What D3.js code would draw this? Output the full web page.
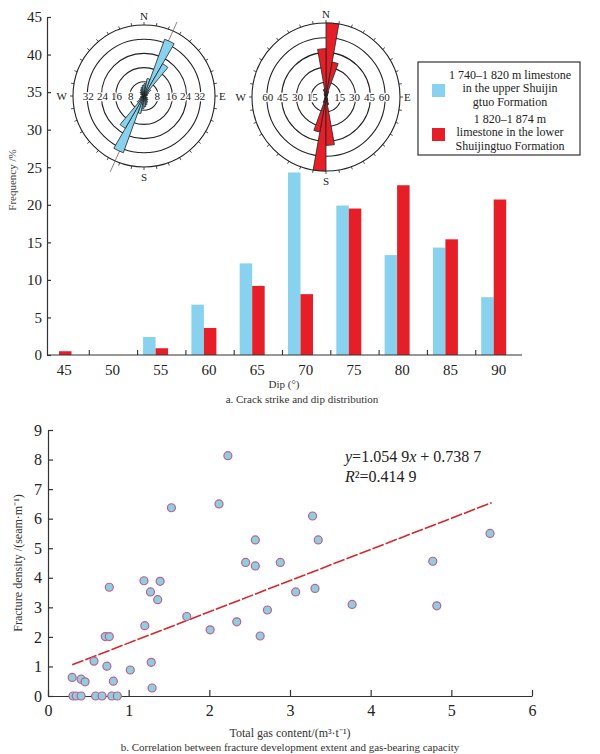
<!DOCTYPE html>
<html>
<head>
<meta charset="utf-8">
<script src="https://cdn.jsdelivr.net/npm/d3@7"></script>
<style>
  body { margin: 0; background: #fff; }
  svg { display: block; }
  text { font-family: "Liberation Serif", "Times New Roman", serif; }
  .axis path, .axis line { stroke: #333; stroke-width: 1.2; }
  .axis text { fill: #222; }
</style>
</head>
<body>
<svg width="600" height="754"></svg>
<script>
'use strict';
// ---- data ----
var dips = ['45', '50', '55', '60', '65', '70', '75', '80', '85', '90'];
var seriesNames = ['upper', 'lower'];
var upperFreq = [0, 0, 2.4, 6.7, 12.2, 24.3, 19.9, 13.3, 14.3, 7.7];
var lowerFreq = [0.5, 0, 0.9, 3.6, 9.2, 8.1, 19.5, 22.6, 15.4, 20.7];
var freqTicks = [0, 5, 10, 15, 20, 25, 30, 35, 40, 45];

// rose bins: 10 degree bins over 0-180, mirrored to 180-360
var roseBins = [0, 10, 20, 30, 40, 50, 60, 70, 80, 90, 100, 110, 120, 130, 140, 150, 160, 170];
var upperRose = [7, 10, 34, 21, 5, 3, 2, 2, 1, 1, 1, 2, 2, 3, 3, 4, 5, 6];
var lowerRose = [75, 36, 6, 3, 2, 2, 1, 1, 1, 1, 1, 1, 2, 2, 3, 4, 8, 49];
var upperRings = [8, 16, 24, 32];
var lowerRings = [15, 30, 45, 60];
var upperMeanStrike = 24;

var gasContent = [0.30, 0.31, 0.35, 0.41, 0.41, 0.46, 0.57, 0.59, 0.67, 0.71, 0.76, 0.73, 0.76, 0.81, 0.79, 0.86,
  1.02, 1.19, 1.20, 1.27, 1.28, 1.29, 1.36, 1.39, 1.53, 1.72, 2.01, 2.12, 2.23, 2.34, 2.45, 2.57, 2.57, 2.63,
  2.72, 2.88, 3.07, 3.28, 3.31, 3.35, 3.77, 4.77, 4.82, 5.48];
var fractureDensity = [0.63, 0, 0, 0, 0.57, 0.48, 1.18, 0, 0, 2.01, 2.01, 1.01, 3.68, 0.50, 0, 0,
  0.88, 3.90, 2.38, 3.52, 1.14, 0.27, 3.26, 3.88, 6.37, 2.69, 2.24, 6.50, 8.13, 2.51, 4.52, 4.40, 5.28, 2.03,
  2.91, 4.52, 3.52, 6.09, 3.64, 5.28, 3.10, 4.56, 3.05, 5.50];
var fitSlope = 1.0549;
var fitIntercept = 0.7387;
var fitRange = [0.3, 5.5];
var gasTicks = [0, 1, 2, 3, 4, 5, 6];
var densityTicks = [0, 1, 2, 3, 4, 5, 6, 7, 8, 9];

var colors = { upper: '#88d2f0', lower: '#e61e28' };
var FONT = '"Liberation Serif", "Times New Roman", serif';

var svg = d3.select('svg');

// ================= chart a: dip histogram =================
var areaA = { left: 47, right: 522, top: 17, bottom: 355 };
var xBand = d3.scaleBand().domain(dips).range([areaA.left - 6, areaA.right + 2]);
var xSub = d3.scaleBand().domain(seriesNames).range([5.5, 30.5]);
var yFreq = d3.scaleLinear().domain([0, 45]).range([areaA.bottom, areaA.top]);

var barRows = [];
dips.forEach(function(d, i) {
  barRows.push({ dip: d, key: 'upper', v: upperFreq[i] });
  barRows.push({ dip: d, key: 'lower', v: lowerFreq[i] });
});

// ---- rose diagrams ----
function drawRose(cx, cy, outerR, ringVals, values, color, meanStrike) {
  var g = svg.append('g').attr('transform', 'translate(' + cx + ',' + cy + ')');
  var maxRing = ringVals[ringVals.length - 1];
  var r = d3.scaleLinear().domain([0, maxRing]).range([0, outerR * 0.8]);

  g.append('circle').attr('r', outerR).attr('fill', 'none').attr('stroke', '#222').attr('stroke-width', 1.1);
  g.selectAll('.ring').data(ringVals).enter().append('circle')
    .attr('r', function(d) { return r(d); })
    .attr('fill', 'none').attr('stroke', '#222').attr('stroke-width', 1.1);

  // outer ticks every 10 degrees
  g.selectAll('.tk').data(d3.range(0, 360, 10)).enter().append('line')
    .attr('x1', function(d) { return outerR * Math.sin(d * Math.PI / 180); })
    .attr('y1', function(d) { return -outerR * Math.cos(d * Math.PI / 180); })
    .attr('x2', function(d) { return (outerR + 3) * Math.sin(d * Math.PI / 180); })
    .attr('y2', function(d) { return -(outerR + 3) * Math.cos(d * Math.PI / 180); })
    .attr('stroke', '#222').attr('stroke-width', 0.8);

  // labels on the E-W line
  var labs = [];
  ringVals.forEach(function(v) { labs.push({ v: v, s: -1 }); labs.push({ v: v, s: 1 }); });
  g.selectAll('.lb').data(labs).enter().append('text')
    .attr('x', function(d) { return d.s * (r(d.v) - 1); })
    .attr('y', 4)
    .attr('text-anchor', 'middle')
    .style('font-size', '11px').attr('fill', '#222')
    .attr('stroke', '#fff').attr('stroke-width', 2.5).attr('paint-order', 'stroke')
    .text(function(d) { return d.v; });

  if (meanStrike != null) {
    var a = meanStrike * Math.PI / 180;
    g.append('line')
      .attr('x1', (outerR + 10) * Math.sin(a)).attr('y1', -(outerR + 10) * Math.cos(a))
      .attr('x2', -(outerR + 12) * Math.sin(a)).attr('y2', (outerR + 12) * Math.cos(a))
      .attr('stroke', '#666').attr('stroke-width', 0.8);
  }

  var petals = [];
  roseBins.forEach(function(b, i) {
    petals.push({ a: b, v: values[i] });
    petals.push({ a: b + 180, v: values[i] });
  });
  var arc = d3.arc().innerRadius(0)
    .outerRadius(function(d) { return r(d.v); })
    .startAngle(function(d) { return d.a * Math.PI / 180; })
    .endAngle(function(d) { return (d.a + 10) * Math.PI / 180; });
  g.selectAll('.petal').data(petals).enter().append('path')
    .attr('d', arc)
    .attr('fill', color).attr('stroke', '#222').attr('stroke-width', 0.8);

  var dirs = [
    { t: 'N', x: 0, y: -outerR - 5, anchor: 'middle' },
    { t: 'S', x: 0, y: outerR + 14, anchor: 'middle' },
    { t: 'W', x: -outerR - 6, y: 4, anchor: 'end' },
    { t: 'E', x: outerR + 4, y: 4, anchor: 'start' }
  ];
  g.selectAll('.dir').data(dirs).enter().append('text')
    .attr('x', function(d) { return d.x; }).attr('y', function(d) { return d.y; })
    .attr('text-anchor', function(d) { return d.anchor; })
    .style('font-size', '11px').attr('fill', '#222')
    .text(function(d) { return d.t; });
}

drawRose(144, 96, 71, upperRings, upperRose, colors.upper, upperMeanStrike);
drawRose(326, 97, 74, lowerRings, lowerRose, colors.lower, null);

// bars drawn after the roses (the 70 bar overlaps the rose bottom)
svg.append('g').selectAll('rect').data(barRows.filter(function(d) { return d.v > 0; }))
  .enter().append('rect')
  .attr('x', function(d) { return xBand(d.dip) + xSub(d.key); })
  .attr('width', xSub.bandwidth())
  .attr('y', function(d) { return yFreq(d.v); })
  .attr('height', function(d) { return yFreq(0) - yFreq(d.v); })
  .attr('fill', function(d) { return colors[d.key]; });

// y axis
var yAxisA = svg.append('g').attr('class', 'axis')
  .attr('transform', 'translate(' + areaA.left + ',0)')
  .call(d3.axisRight(yFreq).tickValues(freqTicks).tickSize(4).tickSizeOuter(0))
  .attr('font-family', FONT);
yAxisA.selectAll('text').attr('x', -5).attr('text-anchor', 'end').style('font-size', '15px');

// x axis: line + ticks at band boundaries
svg.append('line')
  .attr('x1', areaA.left).attr('x2', areaA.right)
  .attr('y1', yFreq(0)).attr('y2', yFreq(0))
  .attr('stroke', '#333').attr('stroke-width', 1.2);
svg.append('g').selectAll('line').data(dips.slice(1))
  .enter().append('line')
  .attr('x1', function(d) { return xBand(d); })
  .attr('x2', function(d) { return xBand(d); })
  .attr('y1', yFreq(0)).attr('y2', yFreq(0) - 5)
  .attr('stroke', '#333').attr('stroke-width', 1.1);
svg.append('g').selectAll('text').data(dips)
  .enter().append('text')
  .attr('x', function(d) { return xBand(d) + xBand.bandwidth() / 2 - 1; })
  .attr('y', yFreq(0) + 20)
  .attr('text-anchor', 'middle')
  .style('font-size', '15px').attr('fill', '#222')
  .text(function(d) { return d; });

svg.append('text')
  .attr('transform', 'translate(16,' + 180 + ') rotate(-90)')
  .attr('text-anchor', 'middle').style('font-size', '11px').attr('fill', '#444')
  .text('Frequency /%');
svg.append('text').attr('x', 284).attr('y', 388)
  .attr('text-anchor', 'middle').style('font-size', '11px').attr('fill', '#333')
  .text('Dip (°)');
svg.append('text').attr('x', 302).attr('y', 403)
  .attr('text-anchor', 'middle').style('font-size', '11px').attr('fill', '#333')
  .text('a. Crack strike and dip distribution');

// ---- legend ----
var legend = svg.append('g');
legend.append('rect').attr('x', 418).attr('y', 62).attr('width', 162).attr('height', 93)
  .attr('fill', '#fff').attr('stroke', '#333').attr('stroke-width', 1.2);
var legendLines = [
  ['1 740–1 820 m limestone', 'in the upper Shuijin', 'gtuo Formation'],
  ['1 820–1 874 m', 'limestone in the lower', 'Shuijingtuo Formation']
];
seriesNames.forEach(function(k, i) {
  var y0 = 79 + i * 44;
  legend.append('rect').attr('x', 432).attr('y', y0 + 5).attr('width', 13).attr('height', 13)
    .attr('fill', colors[k]);
  legendLines[i].forEach(function(t, j) {
    legend.append('text').attr('x', 510).attr('y', y0 + j * 13.4)
      .attr('text-anchor', 'middle').style('font-size', '12px').attr('fill', '#222')
      .text(t);
  });
});

// ================= chart b: scatter =================
var areaB = { left: 48, right: 532, top: 430, bottom: 696 };
var xGas = d3.scaleLinear().domain([0, 6]).range([areaB.left, areaB.right]);
var yDen = d3.scaleLinear().domain([0, 9]).range([areaB.bottom, areaB.top]);

var yAxisB = svg.append('g').attr('class', 'axis')
  .attr('transform', 'translate(' + areaB.left + ',0)')
  .call(d3.axisRight(yDen).tickValues(densityTicks).tickFormat(d3.format('d')).tickSize(5).tickSizeOuter(0))
  .attr('font-family', FONT);
yAxisB.selectAll('text').attr('x', -6).attr('text-anchor', 'end').style('font-size', '16px');

var xAxisB = svg.append('g').attr('class', 'axis')
  .attr('transform', 'translate(0,' + areaB.bottom + ')')
  .call(d3.axisTop(xGas).tickValues(gasTicks).tickFormat(d3.format('d')).tickSize(6).tickSizeOuter(0))
  .attr('font-family', FONT);
xAxisB.selectAll('text').attr('y', 20).style('font-size', '16px');

svg.append('path')
  .attr('d', d3.line()
    .x(function(d) { return xGas(d); })
    .y(function(d) { return yDen(fitSlope * d + fitIntercept); })(fitRange))
  .attr('fill', 'none').attr('stroke', '#d8262e').attr('stroke-width', 1.6)
  .attr('stroke-dasharray', '12,2');

svg.append('g').selectAll('circle').data(gasContent)
  .enter().append('circle')
  .attr('cx', function(d) { return xGas(d); })
  .attr('cy', function(d, i) { return yDen(fractureDensity[i]); })
  .attr('r', 4)
  .attr('fill', '#8fcfdc').attr('stroke', '#bd5f95').attr('stroke-width', 1.2);

var eq = svg.append('text').attr('x', 345).attr('y', 462).style('font-size', '16px').attr('fill', '#222');
eq.append('tspan').style('font-style', 'italic').text('y');
eq.append('tspan').text('=1.054 9');
eq.append('tspan').style('font-style', 'italic').text('x');
eq.append('tspan').text(' + 0.738 7');
var rsq = svg.append('text').attr('x', 345).attr('y', 482).style('font-size', '16px').attr('fill', '#222');
rsq.append('tspan').style('font-style', 'italic').text('R');
rsq.append('tspan').text('²=0.414 9');

svg.append('text')
  .attr('transform', 'translate(22,' + 563 + ') rotate(-90)')
  .attr('text-anchor', 'middle').style('font-size', '12px').attr('fill', '#333')
  .text('Fracture density /(seam·m⁻¹)');
svg.append('text').attr('x', 290).attr('y', 737)
  .attr('text-anchor', 'middle').style('font-size', '12px').attr('fill', '#333')
  .text('Total gas content/(m³·t⁻¹)');
svg.append('text').attr('x', 290).attr('y', 751)
  .attr('text-anchor', 'middle').style('font-size', '11px').attr('fill', '#333')
  .text('b. Correlation between fracture development extent and gas-bearing capacity');
</script>
</body>
</html>
